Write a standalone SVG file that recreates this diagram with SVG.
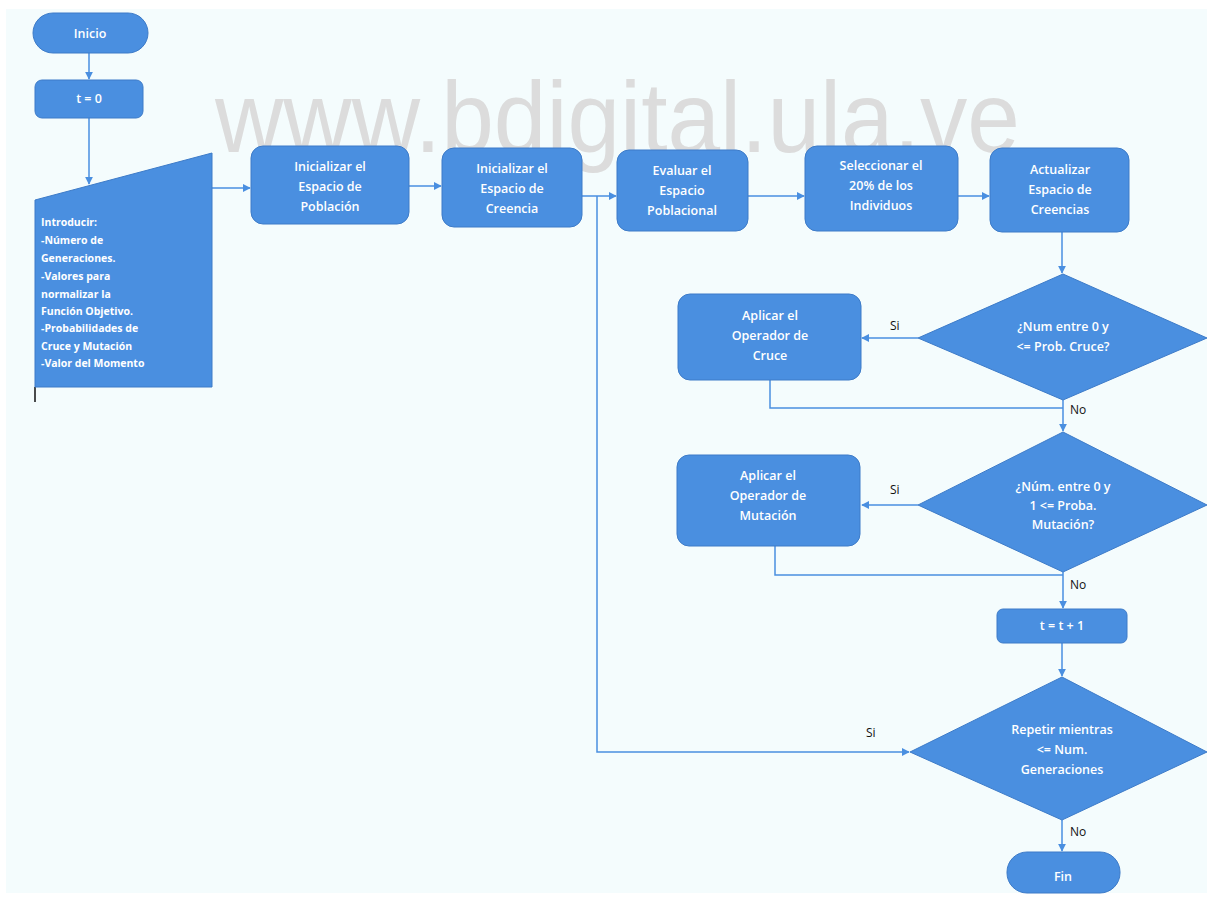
<svg xmlns="http://www.w3.org/2000/svg" width="1207" height="897" viewBox="0 0 1207 897">
<style>
.n{fill:#4a8fe0;stroke:#3d7bc8;stroke-width:1}
.t{fill:#fff;font-family:"Open Sans","Liberation Sans",sans-serif;font-size:12.5px;font-weight:600;text-anchor:middle}
.tl{fill:#fff;font-family:"Open Sans","Liberation Sans",sans-serif;font-size:10.5px;font-weight:bold}
.c{fill:none;stroke:#4a8fe0;stroke-width:1.5}
.lb{fill:#111;font-family:"Open Sans","Liberation Sans",sans-serif;font-size:12px}
.wm{fill:#dcdcdc;font-family:"Liberation Sans",Arial,sans-serif;font-size:100px}
</style>
<defs>
<marker id="a" viewBox="0 0 10 10" refX="9" refY="5" markerWidth="8" markerHeight="8" markerUnits="userSpaceOnUse" orient="auto"><path d="M0,0 L10,5 L0,10 z" fill="#4a8fe0"/></marker>
</defs>
<rect x="0" y="0" width="1207" height="897" fill="#ffffff"/>
<rect x="6" y="9" width="1201" height="884" fill="#f4fcfd"/>
<text class="wm" x="215" y="152" textLength="805" lengthAdjust="spacingAndGlyphs">www.bdigital.ula.ve</text>

<g id="connectors">
<path class="c" d="M89,53 V79" marker-end="url(#a)"/>
<path class="c" d="M89,118 V184" marker-end="url(#a)"/>
<path class="c" d="M212,188 H250" marker-end="url(#a)"/>
<path class="c" d="M409,186 H441" marker-end="url(#a)"/>
<path class="c" d="M582,196 H616" marker-end="url(#a)"/>
<path class="c" d="M748,196 H804" marker-end="url(#a)"/>
<path class="c" d="M958,196 H989" marker-end="url(#a)"/>
<path class="c" d="M1062,232 V273" marker-end="url(#a)"/>
<path class="c" d="M918,338 H862" marker-end="url(#a)"/>
<path class="c" d="M770,380 V408 H1063"/>
<path class="c" d="M1063,400 V431" marker-end="url(#a)"/>
<path class="c" d="M918,505 H862" marker-end="url(#a)"/>
<path class="c" d="M775,546 V575 H1063"/>
<path class="c" d="M1063,572 V608" marker-end="url(#a)"/>
<path class="c" d="M1062,643 V676" marker-end="url(#a)"/>
<path class="c" d="M597,196 V752 H909" marker-end="url(#a)"/>
<path class="c" d="M1062,820 V851" marker-end="url(#a)"/>
<path d="M35,387 V402" stroke="#111" stroke-width="1.5"/>
<text class="lb" x="890" y="330">Si</text>
<text class="lb" x="890" y="494">Si</text>
<text class="lb" x="866" y="737">Si</text>
<text class="lb" x="1070" y="414">No</text>
<text class="lb" x="1070" y="589">No</text>
<text class="lb" x="1070" y="836">No</text>
</g>

<g id="inicio">
<rect class="n" x="33" y="13" width="115" height="40" rx="20"/>
<text class="t" x="90" y="38">Inicio</text>
</g>
<g id="t0">
<rect class="n" x="35" y="80" width="108" height="38" rx="7"/>
<text class="t" x="89" y="103">t = 0</text>
</g>
<g id="entrada">
<path class="n" d="M35,200 L212,153 L212,387 L35,387 Z"/>
<text class="tl" x="41" y="226">Introducir:</text>
<text class="tl" x="41" y="244">-Número de</text>
<text class="tl" x="41" y="262">Generaciones.</text>
<text class="tl" x="41" y="280">-Valores para</text>
<text class="tl" x="41" y="298">normalizar la</text>
<text class="tl" x="41" y="315">Función Objetivo.</text>
<text class="tl" x="41" y="332">-Probabilidades de</text>
<text class="tl" x="41" y="350">Cruce y Mutación</text>
<text class="tl" x="41" y="367">-Valor del Momento</text>
</g>
<g id="inicializar-poblacion">
<rect class="n" x="251" y="146" width="158" height="78" rx="12"/>
<text class="t" x="330" y="171">Inicializar el</text>
<text class="t" x="330" y="191">Espacio de</text>
<text class="t" x="330" y="211">Población</text>
</g>
<g id="inicializar-creencia">
<rect class="n" x="442" y="148" width="140" height="79" rx="12"/>
<text class="t" x="512" y="173">Inicializar el</text>
<text class="t" x="512" y="193">Espacio de</text>
<text class="t" x="512" y="213">Creencia</text>
</g>
<g id="evaluar">
<rect class="n" x="617" y="150" width="131" height="81" rx="12"/>
<text class="t" x="682" y="175">Evaluar el</text>
<text class="t" x="682" y="195">Espacio</text>
<text class="t" x="682" y="215">Poblacional</text>
</g>
<g id="seleccionar">
<rect class="n" x="805" y="146" width="153" height="85" rx="12"/>
<text class="t" x="881" y="170">Seleccionar el</text>
<text class="t" x="881" y="190">20% de los</text>
<text class="t" x="881" y="210">Individuos</text>
</g>
<g id="actualizar">
<rect class="n" x="990" y="148" width="139" height="84" rx="12"/>
<text class="t" x="1060" y="174">Actualizar</text>
<text class="t" x="1060" y="194">Espacio de</text>
<text class="t" x="1060" y="214">Creencias</text>
</g>
<g id="decision-cruce">
<path class="n" d="M1063,274 L1207,338 L1063,400 L918,338 Z"/>
<text class="t" x="1063" y="331">¿Num entre 0 y</text>
<text class="t" x="1063" y="351">&lt;= Prob. Cruce?</text>
</g>
<g id="cruce">
<rect class="n" x="678" y="294" width="183" height="86" rx="12"/>
<text class="t" x="770" y="320">Aplicar el</text>
<text class="t" x="770" y="340">Operador de</text>
<text class="t" x="770" y="360">Cruce</text>
</g>
<g id="decision-mutacion">
<path class="n" d="M1063,432 L1207,505 L1063,572 L918,505 Z"/>
<text class="t" x="1063" y="491">¿Núm. entre 0 y</text>
<text class="t" x="1063" y="510">1 &lt;=  Proba.</text>
<text class="t" x="1063" y="529">Mutación?</text>
</g>
<g id="mutacion">
<rect class="n" x="677" y="455" width="183" height="91" rx="12"/>
<text class="t" x="768" y="480">Aplicar el</text>
<text class="t" x="768" y="500">Operador de</text>
<text class="t" x="768" y="520">Mutación</text>
</g>
<g id="incremento">
<rect class="n" x="997" y="609" width="130" height="34" rx="6"/>
<text class="t" x="1062" y="630">t = t + 1</text>
</g>
<g id="decision-repetir">
<path class="n" d="M1062,677 L1207,752 L1062,820 L910,752 Z"/>
<text class="t" x="1062" y="734">Repetir mientras</text>
<text class="t" x="1062" y="754">&lt;= Num.</text>
<text class="t" x="1062" y="774">Generaciones</text>
</g>
<g id="fin">
<rect class="n" x="1007" y="852" width="113" height="41" rx="20"/>
<text class="t" x="1063" y="881">Fin</text>
</g>
</svg>
